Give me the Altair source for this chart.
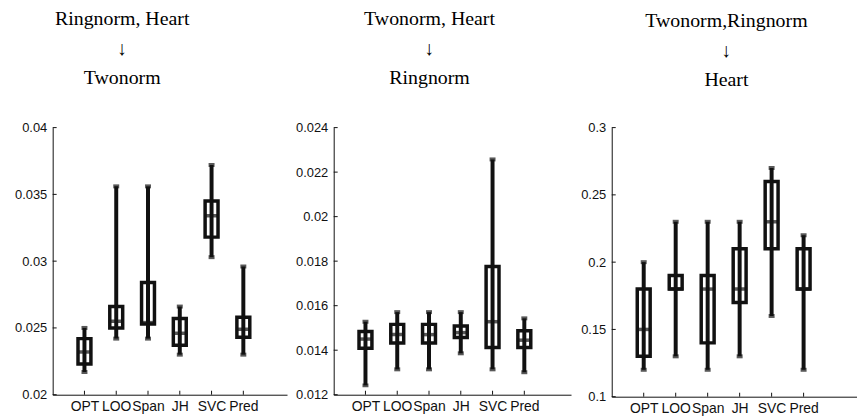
import json
import altair as alt
import pandas as pd

methods = ["OPT", "LOO", "Span", "JH", "SVC", "Pred"]

# Panel 1: Ringnorm, Heart -> Twonorm
tw_lo  = [0.0217, 0.0242, 0.0242, 0.0230, 0.0303, 0.0230]
tw_q1  = [0.0223, 0.0250, 0.0253, 0.0237, 0.0318, 0.0243]
tw_med = [0.0232, 0.0255, 0.0254, 0.0246, 0.0334, 0.0249]
tw_q3  = [0.0242, 0.0266, 0.0284, 0.0257, 0.0345, 0.0258]
tw_hi  = [0.0250, 0.0356, 0.0356, 0.0266, 0.0372, 0.0296]

# Panel 2: Twonorm, Heart -> Ringnorm
rn_lo  = [0.01242, 0.01314, 0.01314, 0.01386, 0.01314, 0.01301]
rn_q1  = [0.01409, 0.01432, 0.01432, 0.01457, 0.01412, 0.01412]
rn_med = [0.01450, 0.01470, 0.01470, 0.01479, 0.01528, 0.01445]
rn_q3  = [0.01484, 0.01516, 0.01516, 0.01509, 0.01776, 0.01487]
rn_hi  = [0.01528, 0.01571, 0.01571, 0.01571, 0.02257, 0.01543]

# Panel 3: Twonorm, Ringnorm -> Heart
ht_lo  = [0.12, 0.13, 0.12, 0.13, 0.16, 0.12]
ht_q1  = [0.13, 0.18, 0.14, 0.17, 0.21, 0.18]
ht_med = [0.15, 0.18, 0.18, 0.18, 0.23, 0.18]
ht_q3  = [0.18, 0.19, 0.19, 0.21, 0.26, 0.21]
ht_hi  = [0.20, 0.23, 0.23, 0.23, 0.27, 0.22]

tw_ticks = [0.02, 0.025, 0.03, 0.035, 0.04]
rn_ticks = [0.012, 0.014, 0.016, 0.018, 0.02, 0.022, 0.024]
ht_ticks = [0.1, 0.15, 0.2, 0.25, 0.3]

titles = [
    ["Ringnorm, Heart", "\u2193", "Twonorm"],
    ["Twonorm, Heart", "\u2193", "Ringnorm"],
    ["Twonorm,Ringnorm", "\u2193", "Heart"],
]

INK = "#111111"
label_expr = json.dumps(methods) + "[datum.value - 1]"


def panel(lo, q1, med, q3, hi, ydom, yticks, width, height, xmax, title, dx, offset, ext):
    df = pd.DataFrame({
        "pos": list(range(1, len(methods) + 1)),
        "method": methods,
        "lo": lo, "q1": q1, "med": med, "q3": q3, "hi": hi,
    })
    tdf = pd.DataFrame({"t": yticks})
    xs = alt.Scale(domain=[0, xmax], nice=False, zero=False, padding=0)
    ys = alt.Scale(domain=ydom, nice=False, zero=False, padding=0)
    xax = alt.Axis(values=list(range(1, len(methods) + 1)), labelExpr=label_expr,
                   title=None, grid=False, ticks=False, labelPadding=5,
                   labelFont="Liberation Sans", labelFontSize=14, labelColor=INK,
                   domainColor=INK, labelAngle=0)
    yax = alt.Axis(values=yticks, format="~g", title=None, grid=False, ticks=False,
                   labelPadding=6, labelFont="Liberation Sans", labelFontSize=13,
                   labelColor=INK, domainColor=INK, minExtent=ext, maxExtent=ext)
    X = alt.X("pos:Q", scale=xs, axis=xax)
    base = alt.Chart(df)
    box = base.mark_bar(size=13, fill="white", stroke=INK, strokeWidth=3.5).encode(
        x=X, y=alt.Y("q1:Q", scale=ys, axis=yax), y2="q3:Q")
    whisk = base.mark_rule(strokeWidth=4, color=INK).encode(x="pos:Q", y="lo:Q", y2="hi:Q")
    medm = base.mark_tick(orient="horizontal", size=15, thickness=3.5, color=INK).encode(
        x="pos:Q", y="med:Q")
    caplo = base.mark_tick(orient="horizontal", size=6, thickness=4, color=INK).encode(
        x="pos:Q", y="lo:Q")
    caphi = base.mark_tick(orient="horizontal", size=6, thickness=4, color=INK).encode(
        x="pos:Q", y="hi:Q")
    ytk = alt.Chart(tdf).mark_rule(color=INK, strokeWidth=1).encode(
        y="t:Q", x=alt.value(0), x2=alt.value(4))
    xtk = base.mark_rule(color=INK, strokeWidth=1).encode(
        x="pos:Q", y=alt.value(height), y2=alt.value(height - 4))
    return alt.layer(box, whisk, medm, caplo, caphi, ytk, xtk).properties(
        width=width, height=height,
        title=alt.TitleParams(text=title, font="Liberation Serif", fontSize=20,
                              fontWeight="normal", color="black", lineHeight=29.5,
                              anchor="middle", frame="group", dx=dx, offset=offset),
    )


p1 = panel(tw_lo, tw_q1, tw_med, tw_q3, tw_hi, [0.02, 0.04], tw_ticks,
           236, 269, 7.375, titles[0], -48, 34, 40)
p2 = panel(rn_lo, rn_q1, rn_med, rn_q3, rn_hi, [0.012, 0.024], rn_ticks,
           239, 269, 7.47, titles[1], -23, 34, 40)
p3 = panel(ht_lo, ht_q1, ht_med, ht_q3, ht_hi, [0.1, 0.3], ht_ticks,
           247, 271, 7.67, titles[2], -8, 32, 34)

chart = alt.hconcat(p1, p2, p3, spacing=7).properties(
    padding={"left": 5, "top": 0, "right": 0, "bottom": 0}
).configure(background="white").configure_view(strokeWidth=0)

chart.save("out.html", embed_options={"renderer": "svg", "actions": False})
